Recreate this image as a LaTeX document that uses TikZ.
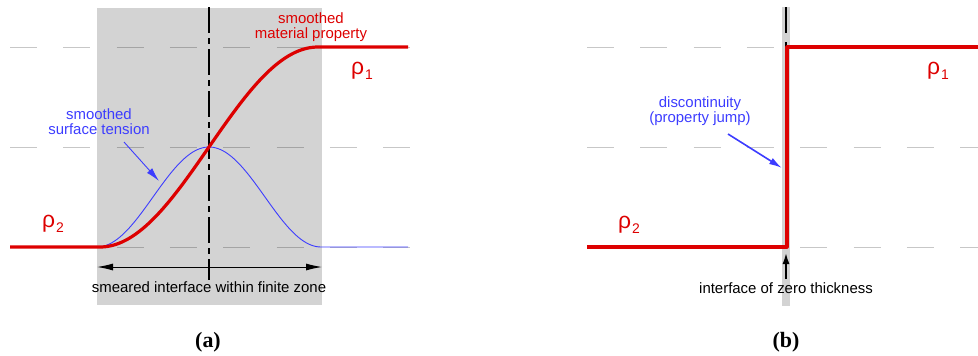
\documentclass[tikz,border=0pt]{standalone}
\usepackage{fontspec}
\setmainfont{Liberation Sans}
\newfontfamily\capfont{Liberation Serif}
\usetikzlibrary{arrows.meta}
\definecolor{myred}{HTML}{DD0000}
\definecolor{myblue}{HTML}{3C3CFF}
\definecolor{zone}{HTML}{D3D3D3}
\tikzset{
  guide/.style={black, opacity=0.22, line width=1bp, dash pattern=on 27bp off 26.3bp},
  redline/.style={myred, line width=3.2bp, line join=round},
  blueline/.style={myblue, line width=0.9bp},
  axisline/.style={black, line width=2.8bp, dash pattern=on 26bp off 5bp on 6bp off 5bp},
  lbl/.style={inner sep=0pt, font=\fontsize{15}{15}\selectfont},
  redlbl/.style={lbl, text=myred, align=center},
  bluelbl/.style={lbl, text=myblue, align=center},
  rholbl/.style={inner sep=0pt, text=myred, font=\fontsize{23}{26}\selectfont},
  caplbl/.style={inner sep=0pt, font=\capfont\bfseries\fontsize{22}{24}\selectfont},
}
\newcommand{\rhosub}[1]{ρ\kern1bp\raisebox{-5bp}{\fontsize{14}{16}\selectfont #1}}
\begin{document}
\begin{tikzpicture}[x=1bp, y=-1bp]
\useasboundingbox (0,0) rectangle (978,355);
% ---------- panel (a)
\fill[zone] (97,8) rectangle (322,305);
\foreach \yy in {47,147,247} \draw[guide] (10,\yy) -- (410,\yy);
\draw[axisline] (209,7) -- (209,280);
\draw[blueline] (97,247) -- plot[domain=97:321, samples=90] (\x,{247-50*(1+cos((\x-209)/112*180))}) -- (408,247);
\draw[redline] (10,247) -- (100,247) -- plot[domain=100:318, samples=90] (\x,{247-100*(1-cos((\x-100)/218*180))}) -- (408,47);
\coordinate (zl) at (97,267);
\coordinate (zr) at (322,267);
\draw[line width=1bp, {Latex[length=16bp,width=7bp]}-{Latex[length=16bp,width=7bp]}] (zl) -- (zr);
\node[lbl] (zone) at (209,287) {smeared interface within finite zone};
\node[redlbl] (smp) at (311,27) {smoothed\\material property};
\node[bluelbl] (sst) at (99,121.5) {smoothed\\surface tension};
\coordinate (sstA) at (124,142);
\coordinate (sstB) at (159,181);
\draw[myblue, line width=0.9bp, -{Latex[length=14bp,width=7bp]}] (sstA) -- (sstB);
\node[rholbl, anchor=west] (r1a) at (351,71) {\rhosub{1}};
\node[rholbl, anchor=west] (r2a) at (42,224) {\rhosub{2}};
\node[caplbl] (capa) at (208,342) {(a)};
% ---------- panel (b)
\fill[zone] (782,7) rectangle (790,306);
\foreach \yy in {47,147,247} \draw[guide] (587,\yy) -- (980,\yy);
\draw[black, line width=2.8bp] (786,7) -- (786,33);
\draw[black, line width=2.8bp] (786,42) -- (786,48);
\draw[redline] (587,247) -- (787,247) -- (787,47) -- (978,47);
\node[bluelbl] (disc) at (700,111.5) {discontinuity\\(property jump)};
\coordinate (discA) at (728,134);
\coordinate (discB) at (782,168);
\draw[myblue, line width=1.6bp, -{Latex[length=13bp,width=7bp]}] (discA) -- (discB);
\coordinate (zA) at (786,279);
\coordinate (zB) at (786,253);
\draw[black, line width=1.6bp, -{Latex[length=11bp,width=7bp]}] (zA) -- (zB);
\node[lbl] (zero) at (786,288) {interface of zero thickness};
\node[rholbl, anchor=west] (r1b) at (927,71) {\rhosub{1}};
\node[rholbl, anchor=west] (r2b) at (618,225) {\rhosub{2}};
\node[caplbl] (capb) at (786,342) {(b)};
\end{tikzpicture}
\end{document}
